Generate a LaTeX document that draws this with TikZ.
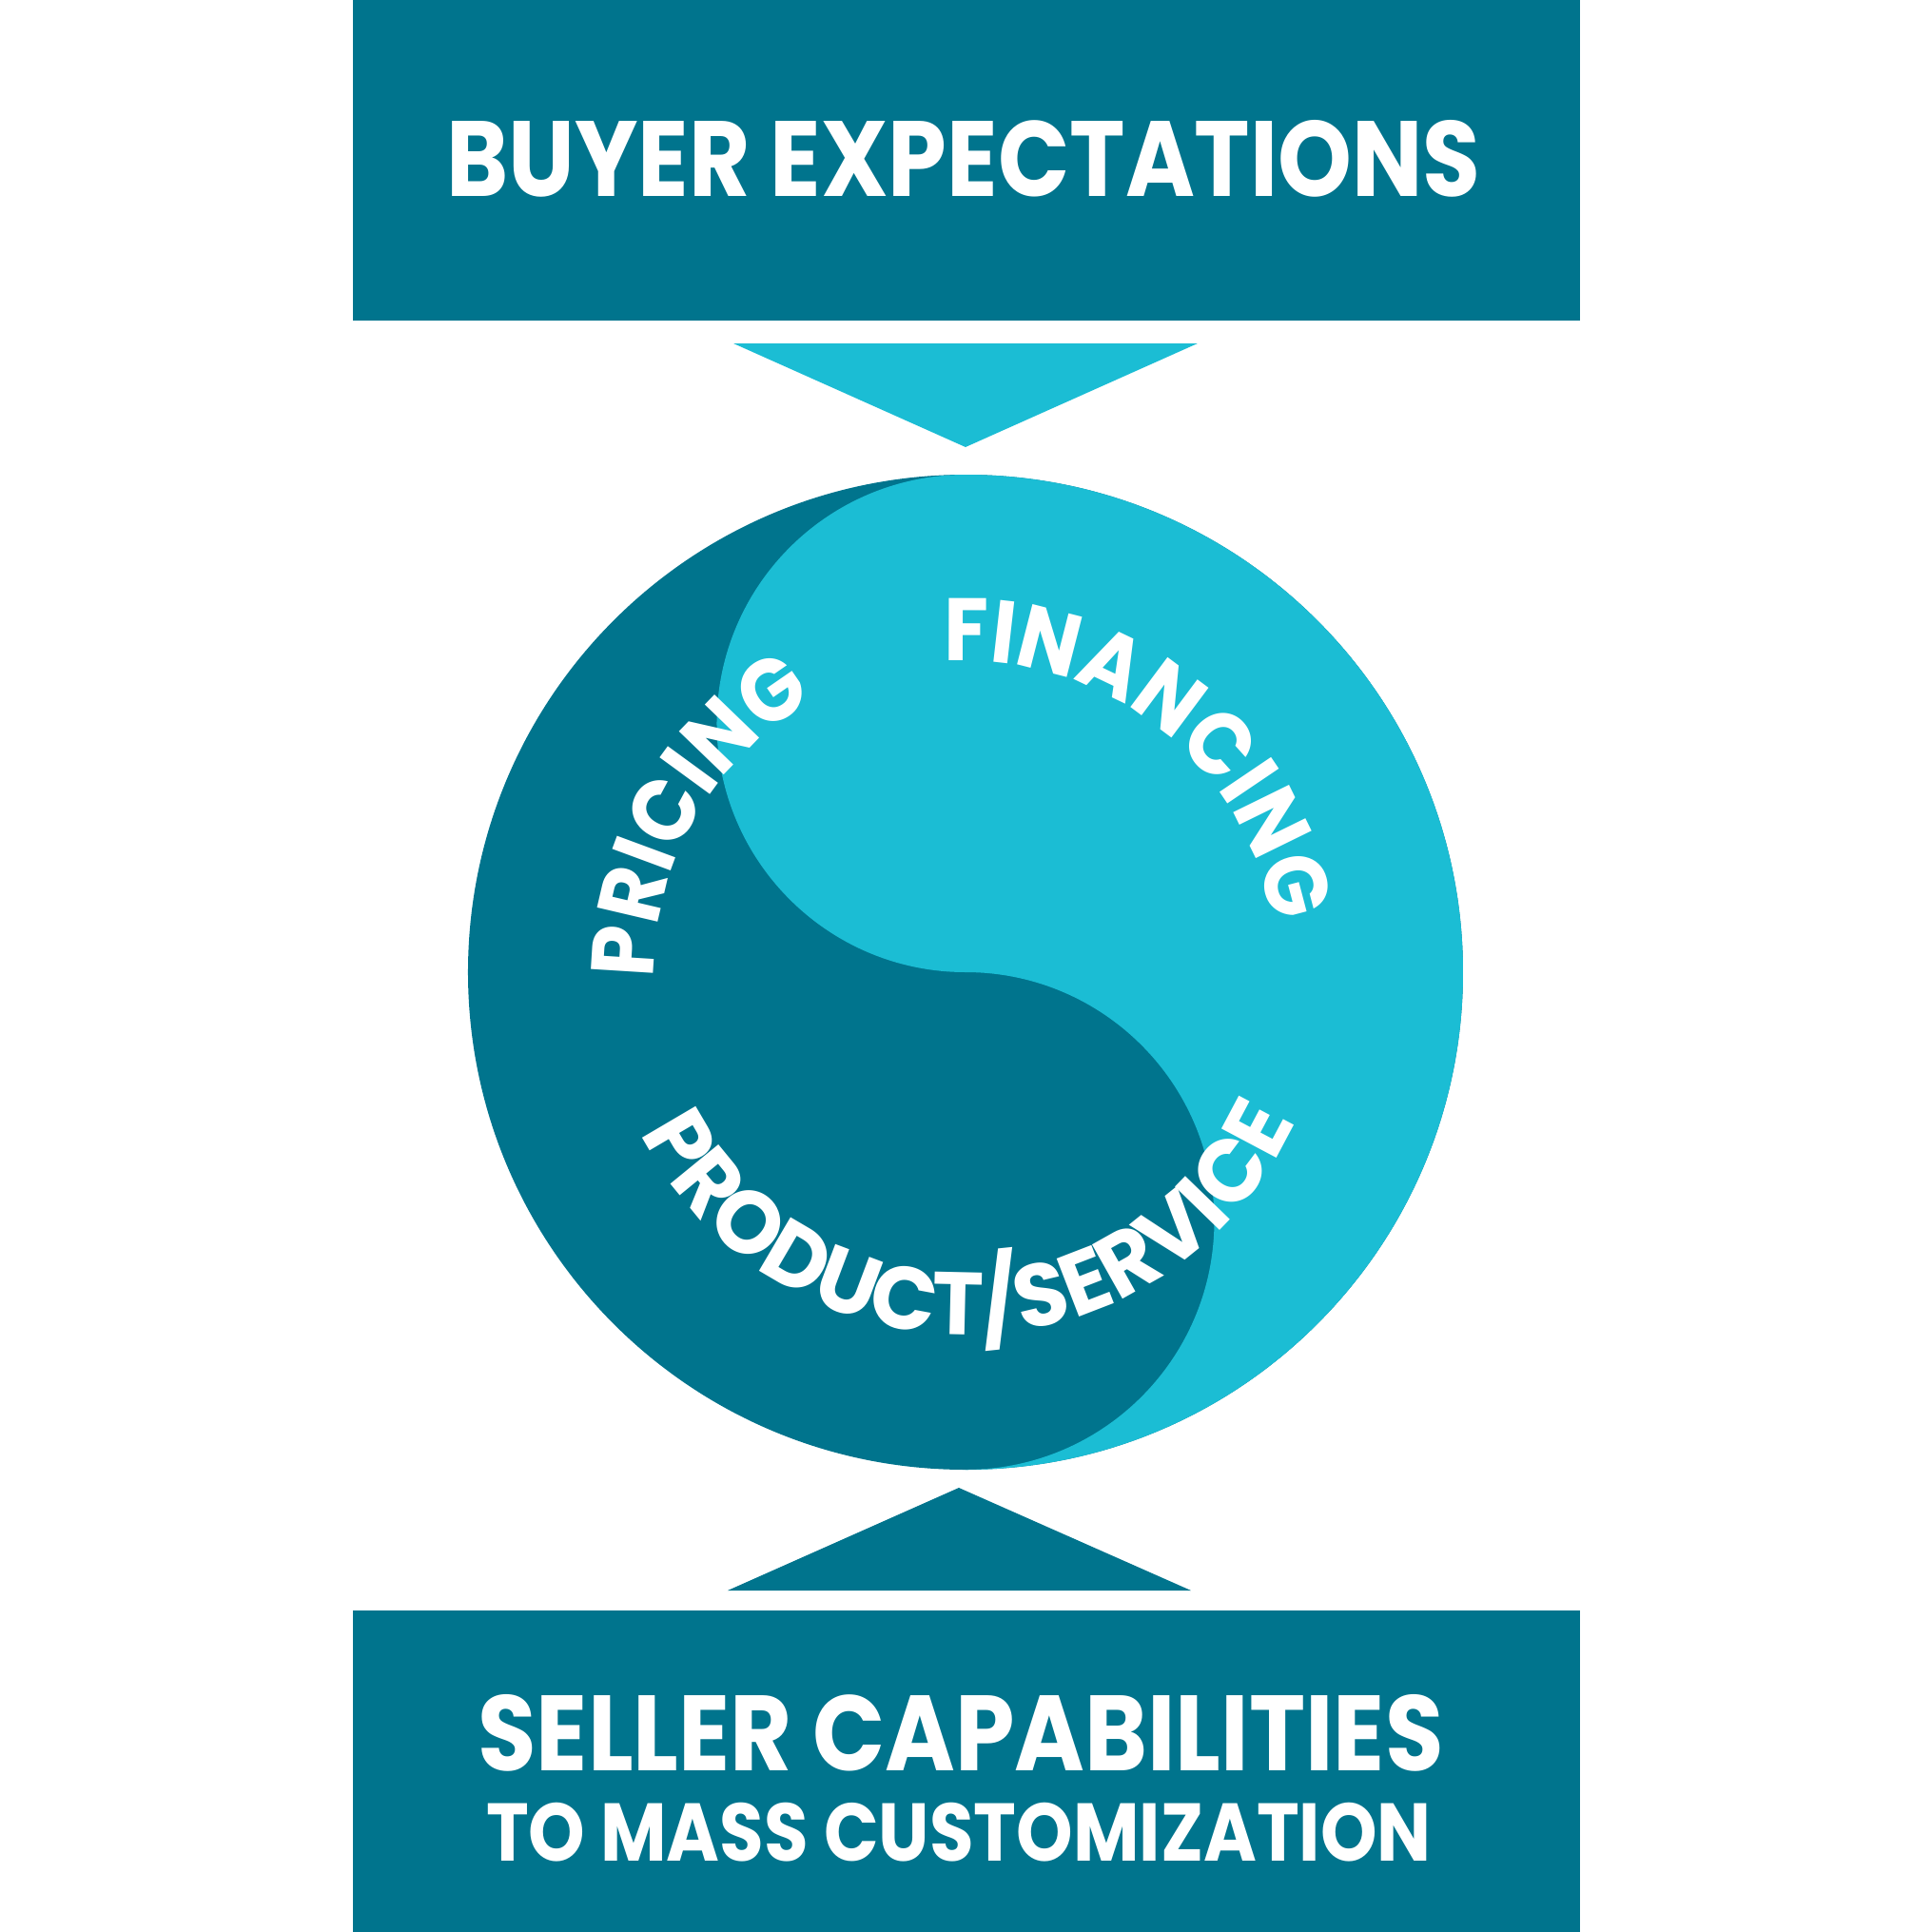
\documentclass[tikz,border=0pt]{standalone}
\usepackage{fontspec}
\setmainfont{Poppins}
\usetikzlibrary{decorations.text}

\definecolor{sellerblue}{RGB}{0,116,141}
\definecolor{buyerblue}{RGB}{27,189,212}
\newcommand\ringfont{\bfseries\fontsize{26.5}{26.5}\selectfont\addfontfeature{FakeStretch=0.92}}
\newcommand\wideringfont{\bfseries\fontsize{26.5}{26.5}\selectfont\addfontfeature{FakeStretch=0.98}}

\tikzset{
  banner/.style={fill=sellerblue},
  title/.style={text=white, anchor=base, inner sep=0pt, font=\bfseries\fontsize{32}{32}\selectfont\addfontfeature{FakeStretch=0.88}},
  seller title/.style={title, font=\bfseries\fontsize{32}{32}\selectfont\addfontfeature{FakeStretch=0.89}},
  subtitle/.style={title, font=\bfseries\fontsize{24.5}{24.5}\selectfont\addfontfeature{FakeStretch=0.88}},
  ringtext/.style={decorate, decoration={text along path, text align=center, text color=white, text={#1}}},
}

\begin{document}
\begin{tikzpicture}
\useasboundingbox (-10.15,-10.09) rectangle (10.16,10.22);

% boxes and arrows
\fill[banner] (-6.44,6.85) rectangle (6.46,10.22);
\fill[banner] (-6.44,-10.09) rectangle (6.46,-6.71);
\fill[buyerblue] (-2.44,6.61) -- (2.44,6.61) -- (0,5.52) -- cycle;
\fill[sellerblue] (-2.50,-6.50) -- (2.37,-6.50) -- (-0.07,-5.42) -- cycle;

\node[title] (buyer) at (-0.02,8.16) {BUYER EXPECTATIONS};
\node[seller title] (seller) at (-0.05,-8.39) {SELLER CAPABILITIES};
\node[subtitle] (mass) at (-0.07,-9.34) {TO MASS CUSTOMIZATION};

% the circle
\fill[sellerblue] (0,0) circle (5.23);
\fill[buyerblue] (0,5.23) arc[start angle=90, end angle=-90, radius=5.23]
  arc[start angle=-90, end angle=90, radius=2.615]
  arc[start angle=270, end angle=90, radius=2.615] -- cycle;

\path[ringtext={|\ringfont|PRICING}] (185:3.27) arc[start angle=185, end angle=115, radius=3.27];
\path[ringtext={|\ringfont|FINANCING}] (95:3.27) arc[start angle=95, end angle=8, radius=3.27];
\path[ringtext={|\wideringfont|PRODUCT/SERVICE}] (200:3.81) arc[start angle=200, end angle=342, radius=3.81];
\end{tikzpicture}
\end{document}
